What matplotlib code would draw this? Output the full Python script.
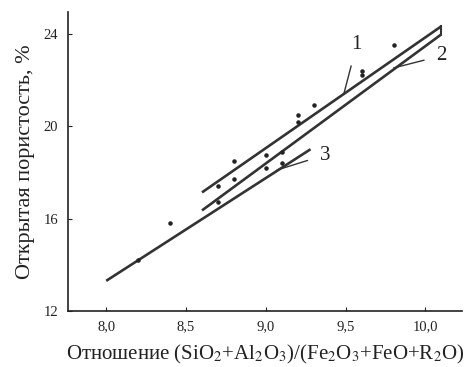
import numpy as np
import matplotlib.pyplot as plt

# --- données ---
x_l1 = [8.6, 10.1]
y_l1 = [17.13, 24.33]
x_l2 = [8.6, 10.1]
y_l2 = [16.35, 23.98]
x_l3 = [8.0, 9.28]
y_l3 = [13.3, 19.0]

pts_x = [8.2, 8.4, 8.7, 8.7, 8.8, 8.8, 9.0, 9.0, 9.1, 9.1, 9.2, 9.2, 9.3, 9.6, 9.6, 9.8]
pts_y = [14.2, 15.8, 17.4, 16.7, 18.5, 17.7, 18.75, 18.2, 18.9, 18.4, 20.5, 20.2, 20.9, 22.4, 22.2, 23.5]

x_ticks = [8.0, 8.5, 9.0, 9.5, 10.0]
x_tick_labels = ['8,0', '8,5', '9,0', '9,5', '10,0']
y_ticks = [12, 16, 20, 24]

plt.rcParams['font.family'] = ['Liberation Serif', 'DejaVu Serif']
plt.rcParams['mathtext.fontset'] = 'stix'

fig = plt.figure(figsize=(4.65, 3.67), dpi=100)
ax = fig.add_axes([0.146, 0.153, 0.848, 0.814])

c = '#333333'
ax.plot(x_l1, y_l1, color=c, lw=1.9, solid_capstyle='butt')
ax.plot(x_l2, y_l2, color=c, lw=1.9, solid_capstyle='butt')
ax.plot(x_l3, y_l3, color=c, lw=1.9, solid_capstyle='butt')
# fermeture en haut à droite
ax.plot([x_l1[-1], x_l2[-1]], [y_l1[-1], y_l2[-1]], color=c, lw=1.5)
ax.scatter(pts_x, pts_y, s=5, color='#222222', zorder=3)

# repères 1, 2, 3
lab = dict(fontsize=15, color='#222222', ha='center', va='center')
arr = dict(arrowstyle='-', color=c, lw=1, shrinkA=7, shrinkB=0)
ax.annotate('1', xy=(9.49, 21.44), xytext=(9.57, 23.55), arrowprops=arr, **lab)
ax.annotate('2', xy=(9.80, 22.52), xytext=(10.1, 23.05), arrowprops=arr, **lab)
ax.annotate('3', xy=(9.07, 18.1), xytext=(9.37, 18.75), arrowprops=arr, **lab)

ax.set_xlim(7.76, 10.23)
ax.set_ylim(12, 24.94)
ax.set_xticks(x_ticks)
ax.set_xticklabels(x_tick_labels)
ax.set_yticks(y_ticks)
ax.tick_params(direction='in', length=3, width=0.8, labelsize=10.5, colors='#222222', pad=7)
for s in ['top', 'right']:
    ax.spines[s].set_visible(False)
for s in ['left', 'bottom']:
    ax.spines[s].set_linewidth(1.2)
    ax.spines[s].set_color('#222222')

ax.set_ylabel('Открытая пористость, %', fontsize=16, color='#222222', labelpad=6)
ax.set_xlabel('Отношение (SiO$_2$+Al$_2$O$_3$)/(Fe$_2$O$_3$+FeO+R$_2$O)',
              fontsize=15, color='#222222', labelpad=7)

fig.savefig('out.png', dpi=100)
